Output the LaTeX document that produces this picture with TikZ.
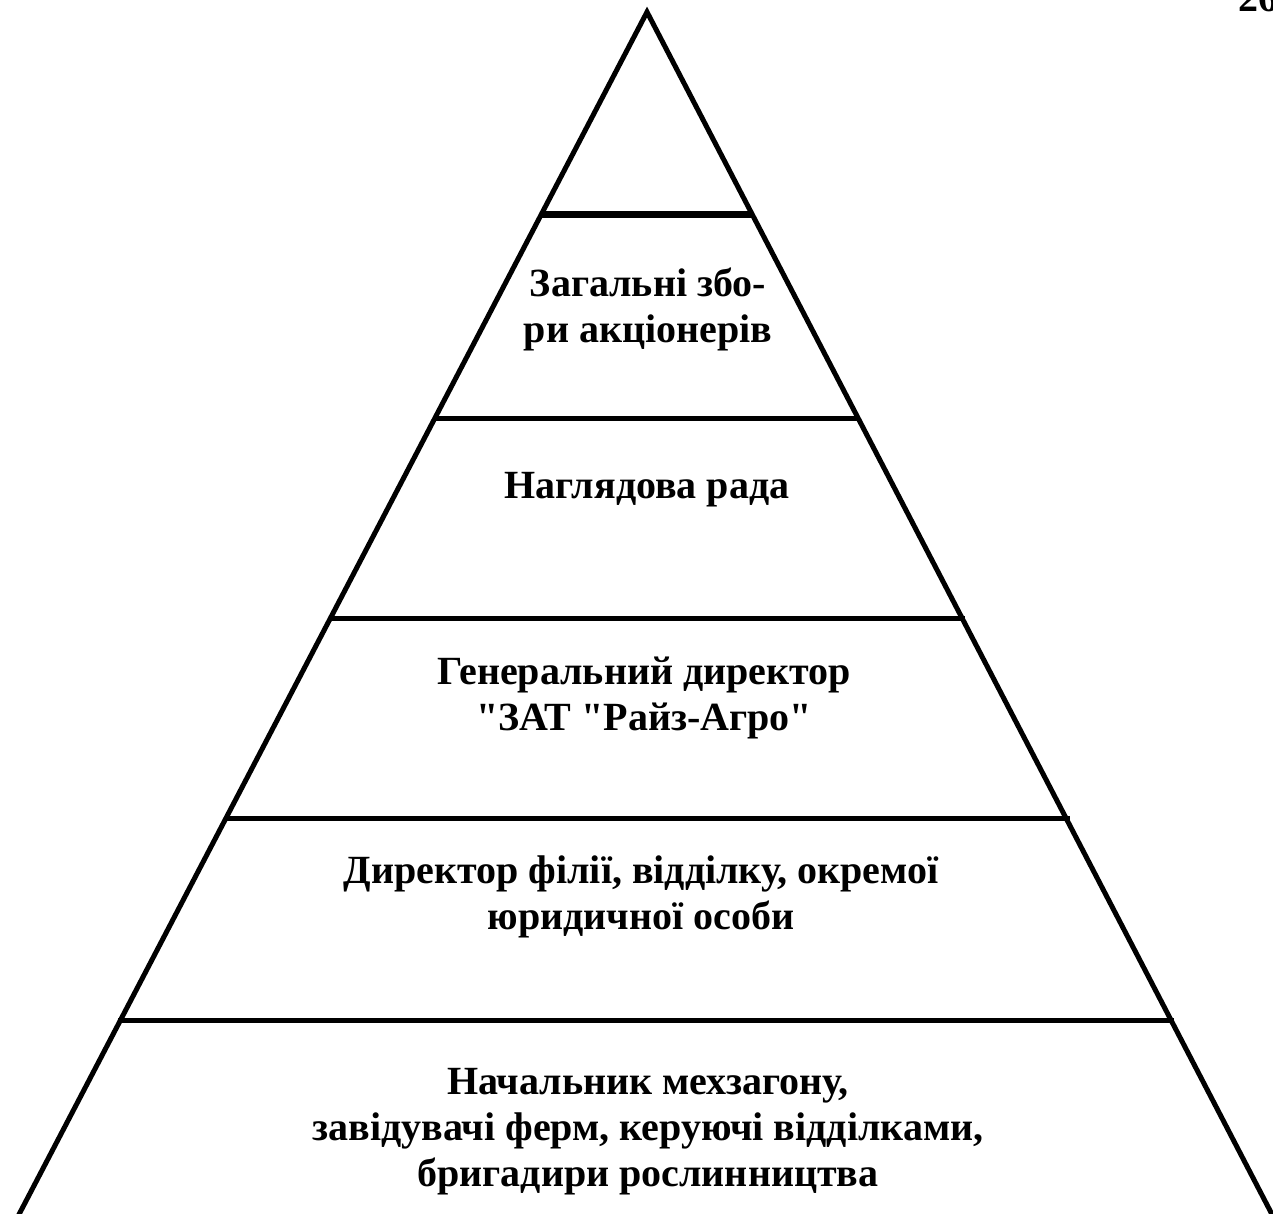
\documentclass[tikz,border=0pt]{standalone}
\usepackage{fontspec}
\setmainfont{Liberation Serif}[Ligatures=TeXOff]
\begin{document}
\begin{tikzpicture}[x=1pt,y=-1pt,
  side/.style={line width=5pt, line join=miter},
  bar/.style={line width=5pt},
  lvl/.style={font=\fontsize{40}{46}\selectfont\bfseries, align=center, inner sep=0pt}]
\useasboundingbox (0,0) rectangle (1273,1214);
\fill[white] (0,0) rectangle (1273,1214);
% apex and base
\coordinate (apex) at (647,12);
\coordinate (bl) at (14,1224);
\coordinate (br) at (1277,1224);
\draw[side] (bl) -- (apex) -- (br);
% dividing bars
\coordinate (b1l) at (541,215); \coordinate (b1r) at (752,215);
\coordinate (b2l) at (436,418); \coordinate (b2r) at (859,418);
\coordinate (b3l) at (331,618); \coordinate (b3r) at (965,618);
\coordinate (b4l) at (225,818); \coordinate (b4r) at (1070,818);
\coordinate (b5l) at (118,1020); \coordinate (b5r) at (1174,1020);
\draw[bar, line width=7pt] (b1l) -- (b1r);
\draw[bar] (b2l) -- (b2r);
\draw[bar] (b3l) -- (b3r);
\draw[bar] (b4l) -- (b4r);
\draw[bar] (b5l) -- (b5r);
% labels
\node[lvl] (t1) at (648,309) {Загальні збо-\\ри акціонерів};
\node[lvl] (t2) at (647,490) {Наглядова рада};
\node[lvl] (t3) at (644,698) {Генеральний директор\\ "ЗАТ "Райз-Агро"};
\node[lvl] (t4) at (641,897) {Директор філії, відділку, окремої\\юридичної особи};
\node[lvl] (t5) at (648,1132) {Начальник мехзагону,\\завідувачі ферм, керуючі відділками,\\бригадири рослинництва};
\node[font=\fontsize{40}{46}\selectfont\bfseries, anchor=base west, inner sep=0pt] (pg) at (1238,12) {26};
\end{tikzpicture}
\end{document}
